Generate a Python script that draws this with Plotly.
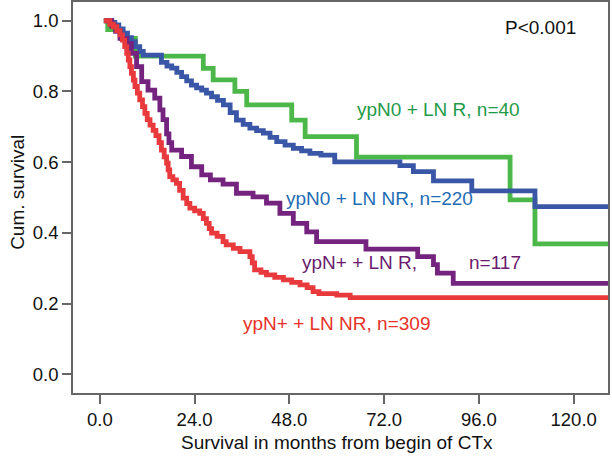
import plotly.graph_objects as go

# ---- data ----
green_t = [1.0, 2.0, 5.5, 9.0, 26.2, 28.7, 34.2, 37.2, 48.6, 52.0, 65.0, 103.9, 110.2, 128.7]
green_s = [1.0, 0.975, 0.95, 0.90, 0.865, 0.833, 0.80, 0.762, 0.719, 0.672, 0.614, 0.493, 0.369, 0.369]

blue_t = [1.0, 3.0, 3.8, 4.8, 5.9, 7.0, 8.0, 9.0, 10.1, 11.0, 15.6, 17.0, 18.2, 19.5, 20.7, 22.0,
          23.2, 24.5, 25.8, 27.0, 28.3, 29.8, 31.3, 33.0, 34.6, 36.3, 38.0, 39.7, 41.4, 43.1, 44.8,
          46.9, 49.0, 51.1, 53.2, 56.0, 59.5, 76.0, 79.4, 84.5, 94.2, 110.2, 128.7]
blue_s = [1.0, 0.995, 0.988, 0.977, 0.965, 0.952, 0.941, 0.927, 0.913, 0.903, 0.882, 0.872, 0.866,
          0.854, 0.842, 0.830, 0.818, 0.810, 0.804, 0.795, 0.785, 0.775, 0.762, 0.740, 0.719, 0.707,
          0.696, 0.689, 0.682, 0.670, 0.658, 0.648, 0.639, 0.632, 0.625, 0.620, 0.601, 0.590, 0.573,
          0.547, 0.519, 0.474, 0.474]

purple_t = [1.5, 3.0, 4.0, 5.1, 6.8, 8.0, 9.3, 10.6, 12.2, 13.9, 15.2, 16.0, 16.9, 17.5, 18.2, 20.7,
            23.2, 25.8, 28.0, 31.2, 34.6, 38.8, 42.2, 45.6, 49.0, 52.4, 54.9, 67.4, 80.5, 84.5, 85.5,
            89.5, 128.7]
purple_s = [1.0, 0.985, 0.97, 0.95, 0.936, 0.908, 0.870, 0.828, 0.804, 0.781, 0.748, 0.720, 0.680,
            0.655, 0.634, 0.616, 0.587, 0.564, 0.550, 0.538, 0.512, 0.502, 0.484, 0.455, 0.427, 0.403,
            0.375, 0.354, 0.333, 0.310, 0.286, 0.257, 0.257]

red_t = [1.0, 2.5, 3.4, 4.3, 5.1, 5.7, 6.3, 6.8, 7.2, 7.6, 8.0, 8.5, 8.9, 9.5, 10.1, 10.8, 11.4, 12.0,
         12.7, 13.5, 14.2, 15.0, 15.6, 16.3, 16.9, 17.3, 17.7, 18.5, 19.4, 20.2, 21.1, 22.0, 22.8, 24.0,
         25.3, 26.2, 27.0, 27.7, 28.3, 29.7, 31.2, 32.0, 33.8, 35.5, 38.0, 38.6, 39.2, 40.8, 42.2, 44.3,
         46.5, 48.6, 50.7, 52.5, 54.0, 55.5, 60.0, 63.4, 128.7]
red_s = [1.0, 0.99, 0.983, 0.972, 0.96, 0.945, 0.927, 0.908, 0.889, 0.870, 0.851, 0.832, 0.814, 0.795,
         0.776, 0.757, 0.738, 0.720, 0.705, 0.690, 0.675, 0.655, 0.634, 0.615, 0.597, 0.578, 0.559,
         0.550, 0.540, 0.520, 0.498, 0.483, 0.470, 0.462, 0.455, 0.440, 0.427, 0.412, 0.399, 0.390,
         0.375, 0.366, 0.356, 0.347, 0.333, 0.315, 0.295, 0.288, 0.281, 0.274, 0.267, 0.260, 0.253,
         0.245, 0.234, 0.228, 0.224, 0.217, 0.217]

x_ticks = [0, 24, 48, 72, 96, 120]
y_ticks = [0.0, 0.2, 0.4, 0.6, 0.8, 1.0]

x_title = "Survival in months from begin of CTx"
y_title = "Cum. survival"

labels = ["ypN0 + LN R, n=40", "ypN0 + LN NR, n=220", "ypN+ + LN R,", "n=117", "ypN+ + LN NR, n=309", "P<0.001"]
label_x = [64.6, 46.6, 50.7, 93.0, 35.7, 102.1]
label_y = [0.748, 0.497, 0.315, 0.315, 0.145, 0.980]
label_c = ["#1f9a48", "#1f6db5", "#6a1b6e", "#6a1b6e", "#e63228", "#111111"]

FONT = "Liberation Sans, Arial, Helvetica, sans-serif"

fig = go.Figure()
series = [
    (green_t, green_s, "#4cb84a"),
    (blue_t, blue_s, "#3a56a6"),
    (purple_t, purple_s, "#74237f"),
    (red_t, red_s, "#e8393c"),
]
for t, s, c in series:
    fig.add_trace(go.Scatter(x=t, y=s, mode="lines", line=dict(shape="hv", color=c, width=4.8),
                             showlegend=False, hoverinfo="skip"))

for txt, x, y, c in zip(labels, label_x, label_y, label_c):
    fig.add_annotation(x=x, y=y, xref="x", yref="y", text=txt, showarrow=False,
                       xanchor="left", yanchor="middle", font=dict(family=FONT, size=19, color=c))

# axis titles as paper-anchored text
fig.add_annotation(x=0.4935, y=-0.126, xref="paper", yref="paper", text=x_title, showarrow=False,
                   xanchor="center", yanchor="middle", font=dict(family=FONT, size=19, color="#111111"))
fig.add_annotation(x=-0.105, y=0.514, xref="paper", yref="paper", text=y_title, showarrow=False,
                   textangle=-90, xanchor="center", yanchor="middle",
                   font=dict(family=FONT, size=19, color="#111111"))

axis_common = dict(showline=True, mirror=True, linecolor="#666666", linewidth=1.5,
                   ticks="outside", ticklen=9, tickwidth=1.5, tickcolor="#666666",
                   showgrid=False, zeroline=False, automargin=False,
                   tickfont=dict(family=FONT, size=18.5, color="#111111"))

fig.update_layout(
    width=612, height=458,
    margin=dict(l=73, r=4, t=2, b=65),
    paper_bgcolor="white", plot_bgcolor="white",
    xaxis=dict(range=[-6.8, 128.7], tickvals=x_ticks, tickformat=".1f", **axis_common),
    yaxis=dict(range=[-0.053, 1.053], tickvals=y_ticks, tickformat=".1f", **axis_common),
)

fig.write_html("out.html", config={"displayModeBar": False},
               post_script="document.body.style.margin='0';document.body.style.overflow='hidden';")
